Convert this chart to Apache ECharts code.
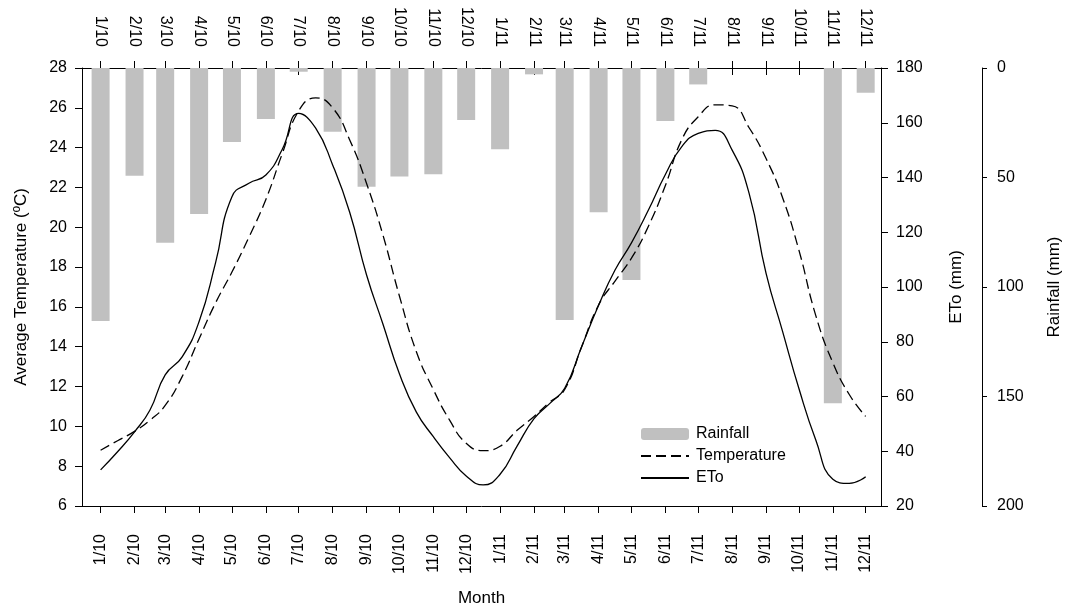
<!DOCTYPE html>
<html>
<head>
<meta charset="utf-8">
<script src="https://cdn.jsdelivr.net/npm/echarts@6/dist/echarts.min.js"></script>
<style>
  html, body { margin: 0; padding: 0; background: #fff; }
  #chart { width: 1065px; height: 610px; }
</style>
</head>
<body>
<div id="chart"></div>
<script>
  // months shown on the axes as month/year (1/10 .. 12/11)
  const months = ['2010-01', '2010-02', '2010-03', '2010-04', '2010-05', '2010-06',
    '2010-07', '2010-08', '2010-09', '2010-10', '2010-11', '2010-12',
    '2011-01', '2011-02', '2011-03', '2011-04', '2011-05', '2011-06',
    '2011-07', '2011-08', '2011-09', '2011-10', '2011-11', '2011-12'];

  // monthly rainfall (mm), bars hang from the top
  const rainfall = [115.5, 49.2, 79.8, 66.7, 33.8, 23.3, 1.7, 29.1, 54.2, 49.6, 48.5, 23.7,
    37.1, 2.9, 115.1, 65.9, 96.8, 24.2, 7.5, 0, 0, 0, 153.1, 11.3];

  // average temperature (ºC) read at the start of each month ...
  const tempMonth = [8.8, 9.75, 11.05, 14.4, 17.75, 21.4, 25.85, 26.0, 22.2, 16.55, 11.85, 9.15,
    9.0, 10.5, 11.85, 16.1, 18.45, 22.1, 25.55, 26.1, 23.45, 18.85, 13.2, 10.5];
  // ... and halfway between two months
  const tempMid = [9.28, 10.3, 12.5, 16.2, 19.5, 23.7, 26.5, 24.4, 19.6, 13.75, 10.3,
    8.78, 9.8, 11.2, 14.0, 17.3, 20.05, 24.4, 26.15, 25.0, 21.5, 15.55, 11.6];

  // ETo (mm), same two readings per month
  const etoMonth = [33.2, 47.1, 67.9, 87.4, 133.0, 140.9, 163.4, 144.6, 104.4, 68.3, 45.3, 31.0,
    31.6, 51.9, 63.0, 93.3, 116.1, 141.1, 156.1, 150.0, 105.0, 62.9, 29.8, 30.7];
  const etoMid = [39.8, 55.0, 74.5, 108.8, 137.9, 150.3, 158.0, 127.4, 86.4, 54.3, 37.6,
    27.7, 41.9, 57.3, 78.2, 106.2, 128.1, 151.3, 157.2, 134.2, 83.9, 44.0, 28.3];

  const tempTicks = [6, 28, 2];
  const etoTicks = [20, 180, 20];
  const rainTicks = [0, 200, 50];

  const DAY = 86400000;

  // x is measured in days since 1 Jan 2010, so month spacing follows the calendar
  const origin = Date.UTC(2010, 0, 1);
  function monthStart (m) {
    let p = m.split('-');
    return (Date.UTC(+p[0], +p[1] - 1, 1) - origin) / DAY;
  }
  const monthX = months.map(monthStart);

  function withMids (atMonth, mids) {
    let out = [];
    atMonth.forEach((v, i) => {
      out.push([monthX[i], v]);
      if (i < mids.length) {
        out.push([(monthX[i] + monthX[i + 1]) / 2, mids[i]]);
      }
    });
    return out;
  }

  function monthLabel (val) {
    let i = monthX.indexOf(val);
    if (i < 0) return '';
    let p = months[i].split('-');
    return (+p[1]) + '/' + p[0].slice(2);
  }

  const axisMin = -17;  // 15 Dec 2009
  const axisMax = 713;  // 15 Dec 2011
  const font = 'Liberation Sans, Arial, sans-serif';
  const black = '#000';

  let xBase = {
    type: 'value',
    min: axisMin,
    max: axisMax,
    splitLine: { show: false },
    axisLine: { show: true, onZero: false, lineStyle: { color: black, width: 1 } },
    axisTick: { show: true, length: 7, customValues: monthX, lineStyle: { color: black } },
    axisLabel: {
      customValues: monthX,
      rotate: 90,
      margin: 28,
      color: black,
      fontFamily: font,
      fontSize: 16,
      formatter: monthLabel,
    },
  };

  function yBase (ticks) {
    return {
      type: 'value',
      min: ticks[0],
      max: ticks[1],
      interval: ticks[2],
      splitLine: { show: false },
      axisLine: { show: true, onZero: false, lineStyle: { color: black, width: 1 } },
      axisTick: { show: true, length: 7, lineStyle: { color: black } },
      axisLabel: { color: black, fontFamily: font, fontSize: 16, margin: 15 },
      nameLocation: 'middle',
      nameRotate: 90,
      nameTextStyle: { color: black, fontFamily: font, fontSize: 17 },
    };
  }

  // line entries in the legend show only their stroke
  const noMarker = { color: 'rgba(0,0,0,0)', borderColor: 'rgba(0,0,0,0)', borderWidth: 0 };

  let option = {
    animation: false,
    backgroundColor: '#fff',
    grid: { left: 82, right: 184, top: 68, bottom: 104, outerBoundsMode: 'none' },
    legend: {
      orient: 'vertical',
      left: 635,
      top: 421,
      itemWidth: 48,
      itemHeight: 12,
      itemGap: 6,
      textStyle: { color: black, fontFamily: font, fontSize: 16, padding: [0, 0, 0, 2] },
      data: [
        { name: 'Rainfall' },
        { name: 'Temperature', itemStyle: noMarker },
        { name: 'ETo', itemStyle: noMarker },
      ],
    },
    xAxis: [
      Object.assign({}, xBase, {
        position: 'bottom',
        name: 'Month',
        nameLocation: 'middle',
        nameGap: 84,
        nameTextStyle: { color: black, fontFamily: font, fontSize: 17 },
      }),
      Object.assign({}, xBase, {
        position: 'top',
        axisLabel: Object.assign({}, xBase.axisLabel, { margin: 21 }),
      }),
      // inner half of the top ticks
      Object.assign({}, xBase, {
        position: 'top',
        axisLine: { show: false, onZero: false },
        axisLabel: { show: false },
        axisTick: { show: true, inside: true, length: 7, customValues: monthX, lineStyle: { color: black } },
      }),
    ],
    yAxis: [
      Object.assign(yBase(tempTicks), {
        position: 'left',
        name: 'Average Temperature (ºC)',
        nameGap: 52,
      }),
      Object.assign(yBase(etoTicks), {
        position: 'right',
        name: 'ETo (mm)',
        nameGap: 67,
      }),
      Object.assign(yBase(rainTicks), {
        position: 'right',
        offset: 101,
        inverse: true,
        axisTick: { show: true, length: 5, lineStyle: { color: black } },
        name: 'Rainfall (mm)',
        nameGap: 64,
      }),
    ],
    series: [
      {
        name: 'Rainfall',
        type: 'bar',
        xAxisIndex: 0,
        yAxisIndex: 2,
        barWidth: 18,
        itemStyle: { color: '#c0c0c0' },
        data: monthX.map((t, i) => [t, rainfall[i]]),
      },
      {
        name: 'Temperature',
        type: 'line',
        xAxisIndex: 0,
        yAxisIndex: 0,
        smooth: 0.5,
        symbol: 'none',
        itemStyle: { color: black },
        lineStyle: { color: black, width: 1.3, type: [10, 5] },
        data: withMids(tempMonth, tempMid),
      },
      {
        name: 'ETo',
        type: 'line',
        xAxisIndex: 0,
        yAxisIndex: 1,
        smooth: 0.5,
        symbol: 'none',
        itemStyle: { color: black },
        lineStyle: { color: black, width: 1.3 },
        data: withMids(etoMonth, etoMid),
      },
    ],
  };

  let myChart = echarts.init(document.getElementById('chart'));
  myChart.setOption(option);
</script>
</body>
</html>
